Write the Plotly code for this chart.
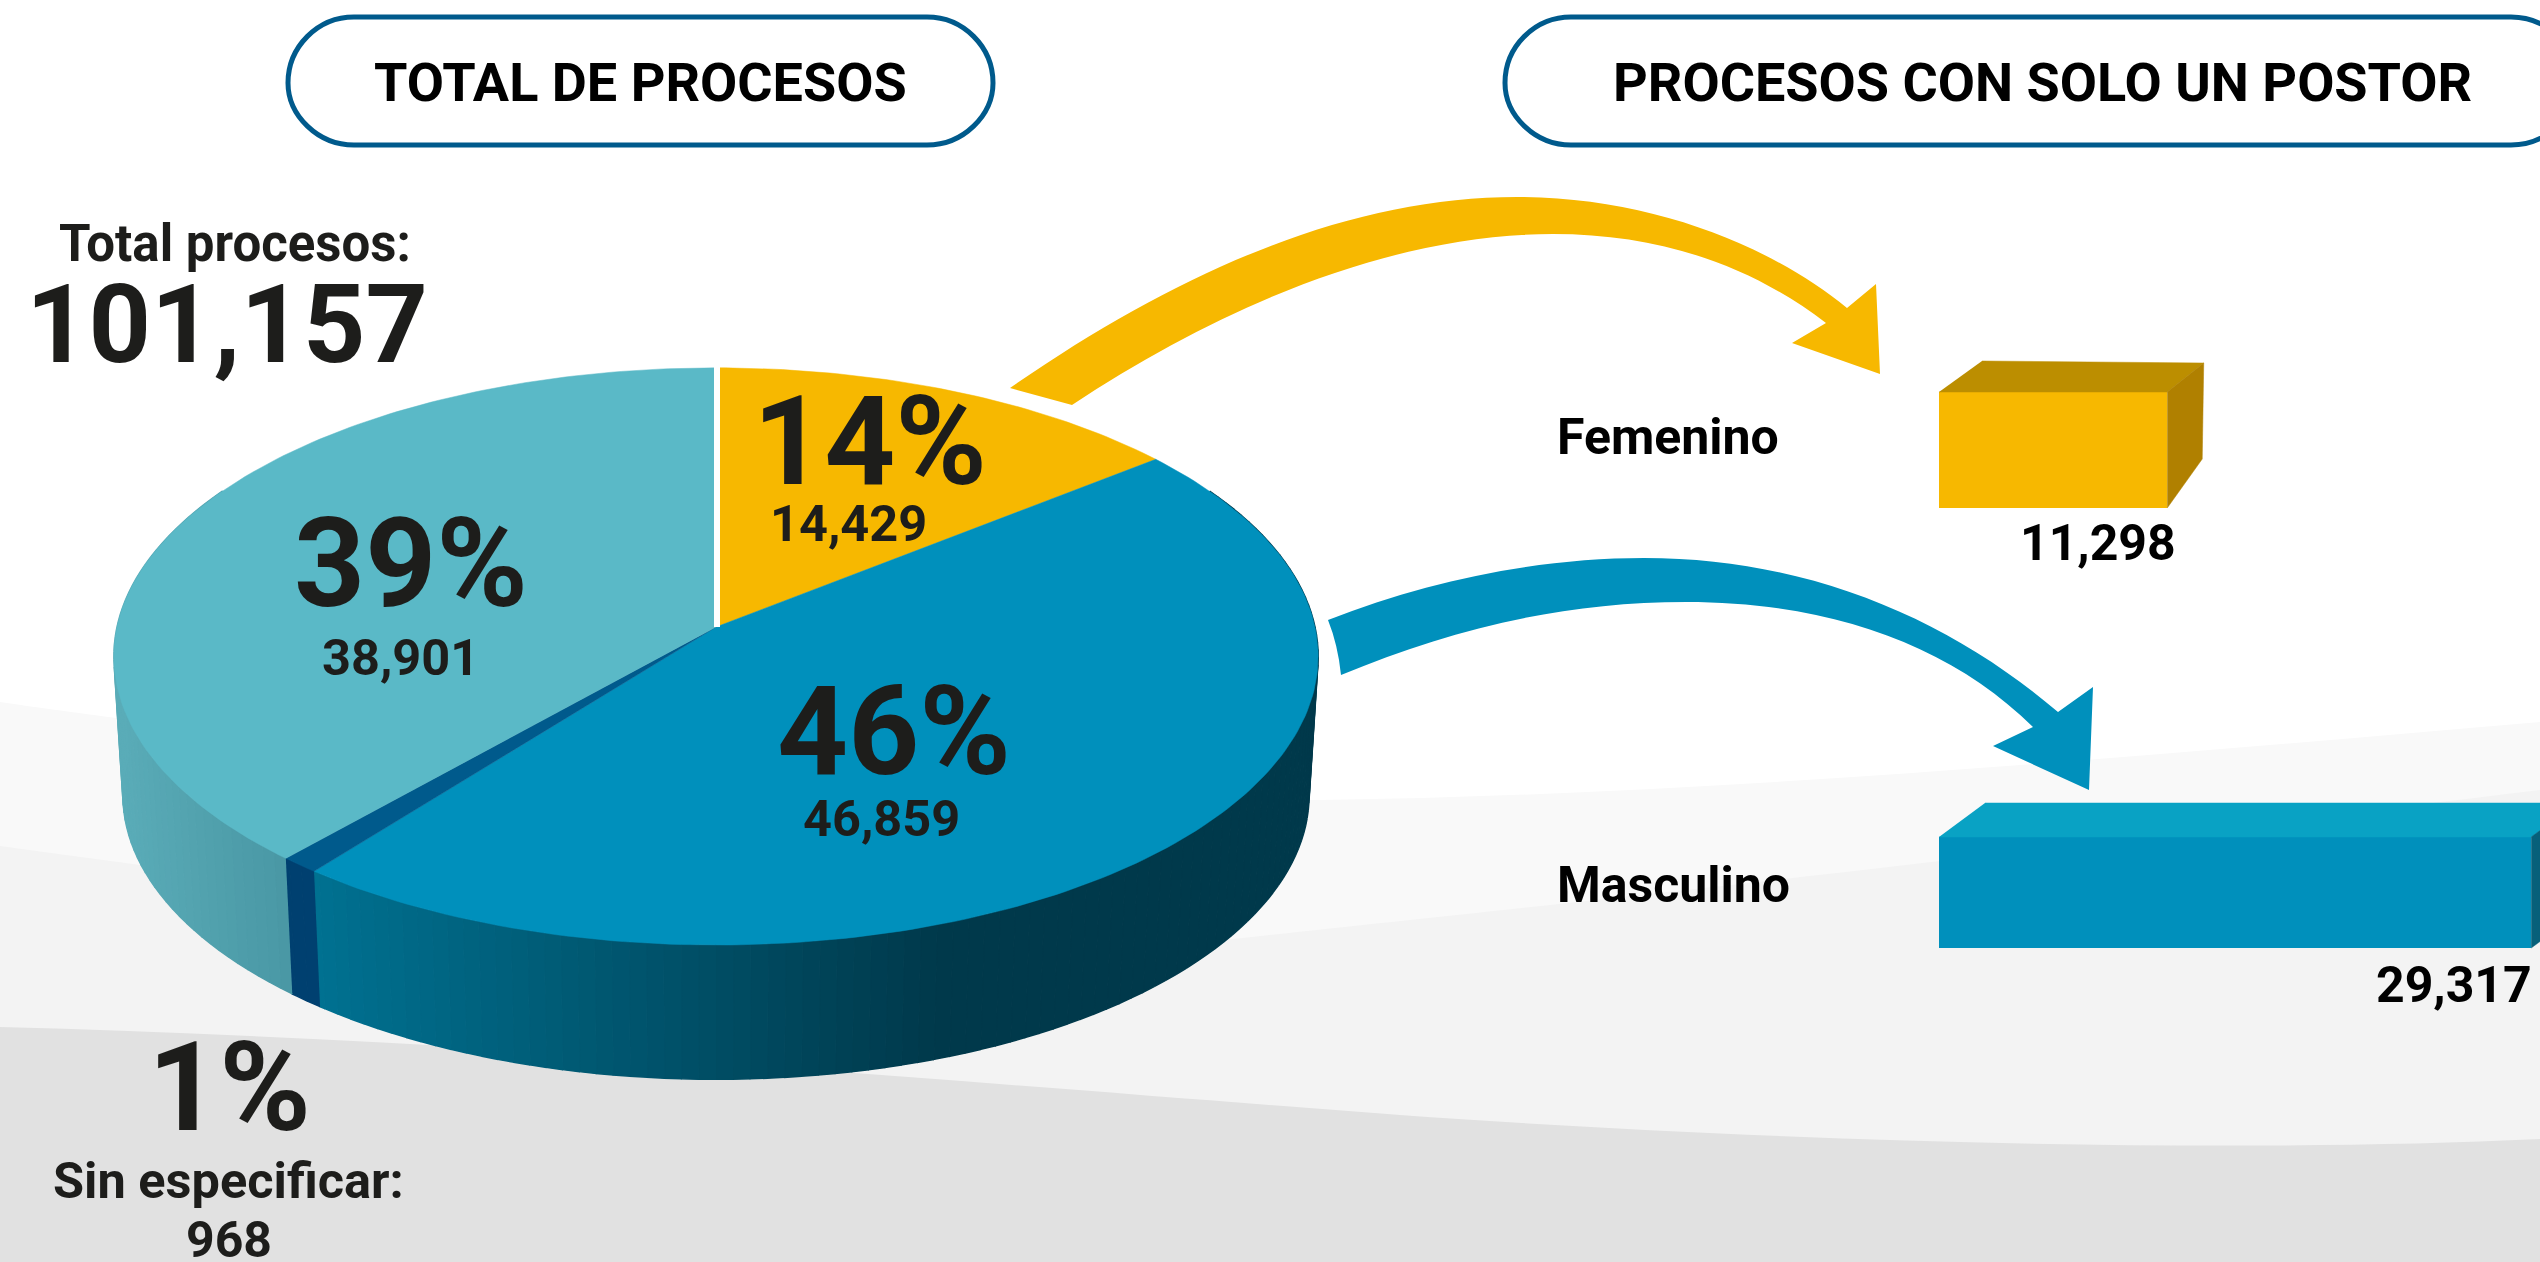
import math
import plotly.graph_objects as go

# ---------- data ----------
total_label = "Total procesos:"
total_value = 101157
slice_names = ["Mujeres", "Hombres", "Sin especificar", "Otros"]
slice_values = [14429, 46859, 968, 38901]
slice_pct = ["14%", "46%", "1%", "39%"]
bar_names = ["Femenino", "Masculino"]
bar_values = [11298, 29317]
titles = ["TOTAL DE PROCESOS", "PROCESOS CON SOLO UN POSTOR"]

# ---------- style ----------
W, H = 2540, 1262
INK = "#1D1D1B"
top_colors = ["#F7B800", "#0090BC", "#005A8C", "#5AB9C7"]
BLUE_NEAR, BLUE_FAR = (0, 113, 145), (0, 57, 75)
TEAL_OUT, TEAL_IN = (90, 172, 184), (74, 152, 165)
CX, CY, RX, RY, K = 716, 627, 599, 285.6, 0.102
DEPTH, SHRINK = 139, 0.985


def ring(theta_deg, scale=1.0, dy=0.0):
    t = math.radians(theta_deg)
    u, v = math.sin(t), -math.cos(t)
    d = 1 - K * v
    return CX + scale * RX * u / d, CY + dy + scale * RY * v / d


def mix(a, b, f):
    f = max(0.0, min(1.0, f))
    return "rgb(%d,%d,%d)" % tuple(round(a[i] + (b[i] - a[i]) * f) for i in range(3))


def poly(xs, ys, color, xaxis="x", yaxis="y", lw=1):
    return go.Scatter(x=xs, y=ys, mode="lines", fill="toself", fillcolor=color,
                      line=dict(color=color, width=lw), hoverinfo="skip",
                      showlegend=False, xaxis=xaxis, yaxis=yaxis)


fig = go.Figure()

# slice angles come straight from the values
grand = sum(slice_values)
edges = [0.0]
for v in slice_values:
    edges.append(edges[-1] + v / grand * 360)

# outer wall of the pie, in thin strips for the shading
def wall(a0, a1, colorfn, step=1.5):
    a = a0
    while a < a1 - 1e-6:
        b = min(a + step, a1)
        ts = [a, (a + b) / 2, b]
        up = [ring(t) for t in ts]
        lo = [ring(t, SHRINK, DEPTH) for t in reversed(ts)]
        xs = [p[0] for p in up + lo]
        ys = [p[1] for p in up + lo]
        fig.add_trace(poly(xs, ys, colorfn(sum(xs) / len(xs)), lw=1.5))
        a = b


wall(60, edges[2], lambda x: mix(BLUE_NEAR, BLUE_FAR, (x - 316) / 620))
wall(edges[2], edges[3], lambda x: "#004070")
wall(edges[3], 300, lambda x: mix(TEAL_OUT, TEAL_IN, (x - 120) / 165))

# top of the pie
for i, col in enumerate(top_colors):
    a0, a1 = edges[i], edges[i + 1]
    n = max(2, int((a1 - a0) / 1.0))
    pts = [ring(a0 + (a1 - a0) * j / n) for j in range(n + 1)]
    xs = [CX] + [p[0] for p in pts] + [CX]
    ys = [CY] + [p[1] for p in pts] + [CY]
    fig.add_trace(poly(xs, ys, col, lw=0.5))

# white cut between the last and first slice
fig.add_trace(go.Scatter(x=[CX + 1, CX + 1], y=[CY, CY - RY / (1 + K) - 2], mode="lines",
                         line=dict(color="white", width=6), hoverinfo="skip", showlegend=False))

# ---------- bars on their own axes ----------
BAR_X0 = 1939
PX_PER_UNIT = 0.0202
BAR_Y = 450
BAR_STEP = 442.5
bar_pos = [0, 1]
bar_heights = [116, 111]
face = ["#F7B800", "#0090BC"]
top_face = ["#BC8E00", "#09A2C4"]
side_face = ["#B08000", "#07607A"]
# depth offsets in pixels: top-left, top-right, bottom-right
offsets = [((43, -31), (36.5, -29), (35, -49)), ((46, -34), (46, -34), (46, -34))]


def ux(px):
    return px / PX_PER_UNIT


def uy(px):
    return px / BAR_STEP


fig.add_trace(go.Bar(y=bar_pos, x=bar_values, orientation="h",
                     width=[uy(h) for h in bar_heights],
                     marker=dict(color=face, line=dict(width=0)),
                     hoverinfo="skip", showlegend=False, xaxis="x2", yaxis="y2"))
for i, v in enumerate(bar_values):
    hi = bar_pos[i] - uy(bar_heights[i]) / 2
    lo = bar_pos[i] + uy(bar_heights[i]) / 2
    tl, tr, br = offsets[i]
    fig.add_trace(poly([0, v, v + ux(tr[0]), ux(tl[0])],
                       [hi, hi, hi + uy(tr[1]), hi + uy(tl[1])],
                       top_face[i], "x2", "y2", 0.5))
    fig.add_trace(poly([v, v + ux(tr[0]), v + ux(br[0]), v],
                       [hi, hi + uy(tr[1]), lo + uy(br[1]), lo],
                       side_face[i], "x2", "y2", 0.5))

# ---------- decoration ----------
def path(d, fill=None, line=None, lw=0):
    return dict(type="path", path=d, xref="x", yref="y", layer="below",
                fillcolor=fill or "rgba(0,0,0,0)",
                line=dict(color=line or "rgba(0,0,0,0)", width=lw))


def pill(x0, x1, y0, y1, r):
    return (f"M{x0+r},{y0} L{x1-r},{y0} C{x1-r*0.45},{y0} {x1},{y0+r*0.45} {x1},{y0+r} "
            f"C{x1},{y1-r*0.45} {x1-r*0.45},{y1} {x1-r},{y1} L{x0+r},{y1} "
            f"C{x0+r*0.45},{y1} {x0},{y1-r*0.45} {x0},{y0+r} "
            f"C{x0},{y0+r*0.45} {x0+r*0.45},{y0} {x0+r},{y0} Z")


shapes = [
    path("M0,702 C400,760 900,800 1319,800 C1700,795 2100,760 2540,722 L2540,1262 L0,1262 Z", "#F9F9F9"),
    path("M0,846 C400,900 900,975 1223,940 C1500,910 1800,880 2540,790 L2540,1262 L0,1262 Z", "#F3F3F3"),
    path("M0,1027 C500,1040 1000,1085 1400,1115 C1750,1140 2200,1155 2540,1139 L2540,1262 L0,1262 Z", "#E1E1E1"),
    path(pill(288, 993, 17, 145, 66), None, "#005A8C", 5),
    path(pill(1505, 2577, 17, 145, 66), None, "#005A8C", 5),
    path("M1010,388 C1180,270 1350,197 1517,197 C1650,197 1770,245 1847,308 L1876,284 L1880,374 "
         "L1792,343 L1826,323 C1750,265 1660,234 1553,234 C1400,234 1230,300 1072,405 Z", "#F7B800"),
    path("M1328,620 C1430,580 1540,558 1644,558 C1810,558 1950,620 2058,712 L2093,687 L2089,790 "
         "L1993,746 L2033,727 C1950,645 1830,602 1686,602 C1560,602 1450,630 1341,675 Q1338,645 1328,620 Z",
         "#0090BC"),
]


def note(text, x, y, size, color=INK, anchor="center", weight=700):
    return dict(text=text, x=x, y=y, xref="x", yref="y", showarrow=False, xanchor=anchor,
                yanchor="middle", font=dict(family="Roboto", size=size, color=color, weight=weight))


annotations = [
    note(titles[0], 640, 82, 54, "#000000"),
    note(titles[1], 2042, 82, 54, "#000000"),
    note(total_label, 235, 243, 51),
    note(f"{total_value:,}", 227, 325, 109),
    note(slice_pct[0], 870, 441, 124),
    note(f"{slice_values[0]:,}", 848, 523, 50.5),
    note(slice_pct[3], 411, 563, 124),
    note(f"{slice_values[3]:,}", 400, 657, 50.5),
    note(slice_pct[1], 894, 731, 124),
    note(f"{slice_values[1]:,}", 881, 818, 50.5),
    note(slice_pct[2], 229, 1087, 124),
    note("Sin especificar:", 228, 1180, 50.5),
    note(f"{slice_values[2]:,}", 229, 1240, 50),
    note(bar_names[0], 1555, 437, 50, "#000000", "left"),
    note(bar_names[1], 1555, 885, 50, "#000000", "left"),
    note(f"{bar_values[0]:,}", 2098, 543, 50, "#000000"),
    note(f"{bar_values[1]:,}", 2454, 985, 50, "#000000"),
]

hidden = dict(visible=False, showgrid=False, zeroline=False, fixedrange=True)
fig.update_layout(
    width=W, height=H, margin=dict(l=0, r=0, t=0, b=0),
    paper_bgcolor="white", plot_bgcolor="rgba(0,0,0,0)", showlegend=False,
    shapes=shapes, annotations=annotations,
    xaxis=dict(range=[0, W], domain=[0, 1], **hidden),
    yaxis=dict(range=[H, 0], domain=[0, 1], **hidden),
    xaxis2=dict(range=[0, ux(W - BAR_X0)], domain=[BAR_X0 / W, 1], anchor="y2", **hidden),
    yaxis2=dict(range=[uy(H - BAR_Y), uy(-BAR_Y)], domain=[0, 1], anchor="x2", **hidden),
)
fig.write_html("out.html", config={"displayModeBar": False},
               post_script="document.body.style.margin='0';")
